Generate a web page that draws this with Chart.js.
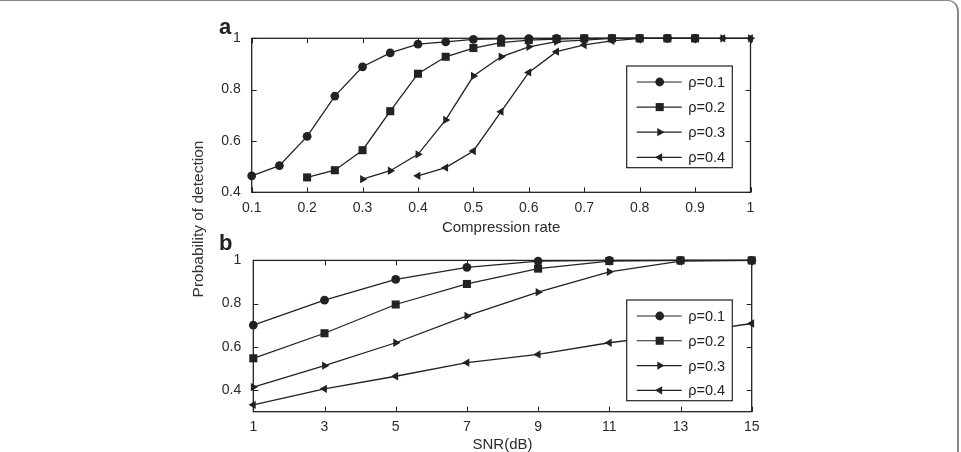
<!DOCTYPE html>
<html><head><meta charset="utf-8">
<script src="https://cdn.jsdelivr.net/npm/chart.js@4.4.0/dist/chart.umd.min.js"></script>
<style>
html,body{margin:0;padding:0;background:#fff;}
#wrap{position:relative;width:961px;height:452px;overflow:hidden;background:#fff;font-family:"Liberation Sans",Arial,sans-serif;}
#frame{position:absolute;left:-20px;top:0;width:979px;height:600px;box-sizing:border-box;border:2px solid #8a8a8a;border-top-width:1px;border-radius:0 11px 0 0;}
canvas{position:absolute;left:0;}
#ca{top:0}
#cb{top:240px}
.lab{position:absolute;font-weight:bold;font-size:22px;color:#222;line-height:22px;}
#ytitle{position:absolute;width:240px;left:78px;top:210px;height:18px;line-height:18px;text-align:center;font-size:15.5px;color:#333;transform:rotate(-90deg);transform-origin:50% 50%;white-space:nowrap;}
</style></head>
<body>
<div id="wrap">
  <div id="frame"></div>
  <canvas id="ca" width="961" height="240"></canvas>
  <canvas id="cb" width="961" height="212"></canvas>
  <div class="lab" style="left:219px;top:16px">a</div>
  <div class="lab" style="left:219px;top:232px">b</div>
  <div id="ytitle">Probability of detection</div>
</div>
<script>
// ---------- data ----------
const seriesNames = ['ρ=0.1', 'ρ=0.2', 'ρ=0.3', 'ρ=0.4'];

// (a) Compression rate
const compressionRate = [0.1,0.15,0.2,0.25,0.3,0.35,0.4,0.45,0.5,0.55,0.6,0.65,0.7,0.75,0.8,0.85,0.9,0.95,1.0];
const rho01A = [0.464,0.504,0.618,0.775,0.889,0.943,0.977,0.986,0.996,0.998,0.999,1,1,1,1,1,1,null,null];
const rho02A = [null,null,0.458,0.486,0.564,0.716,0.862,0.928,0.962,0.983,0.993,0.997,1,1,1,1,1,null,null];
const rho03A = [null,null,null,null,0.451,0.484,0.548,0.682,0.853,0.928,0.967,0.987,0.993,1,1,1,1,1,1];
const rho04A = [null,null,null,null,null,null,0.464,0.496,0.561,0.714,0.867,0.948,0.974,0.990,1,1,1,1,1];
const xTicksA = [0.1,0.2,0.3,0.4,0.5,0.6,0.7,0.8,0.9,1];
const yTicksA = [0.4,0.6,0.8,1];

// (b) SNR
const snr = [1,3,5,7,9,11,13,15];
const rho01B = [0.701,0.816,0.912,0.968,0.997,1,1,1];
const rho02B = [0.547,0.663,0.796,0.891,0.962,0.997,1,1];
const rho03B = [0.414,0.513,0.619,0.743,0.853,0.947,0.997,1];
const rho04B = [0.332,0.406,0.464,0.527,0.565,0.619,0.660,0.708];
const xTicksB = [1,3,5,7,9,11,13,15];
const yTicksB = [0.4,0.6,0.8,1];

// ---------- styling ----------
const FONT = '"Liberation Sans", Arial, sans-serif';
const INK = '#222';
const markerStyles = [
  {pointStyle:'circle', radius:4.4, rotation:0},
  {pointStyle:'rect', radius:5.7, rotation:0},
  {pointStyle:'triangle', radius:4.8, rotation:90},
  {pointStyle:'triangle', radius:4.8, rotation:-90}
];

function fmt(v){ return String(Math.round(v*100)/100); }

function drawMarker(ctx, style, x, y){
  ctx.save();
  ctx.fillStyle = INK;
  ctx.beginPath();
  const r = style.radius;
  if (style.pointStyle === 'circle') {
    ctx.arc(x, y, r, 0, Math.PI*2);
  } else if (style.pointStyle === 'rect') {
    const s = Math.SQRT1_2 * r;
    ctx.rect(x - s, y - s, 2*s, 2*s);
  } else {
    const rot = style.rotation * Math.PI/180;
    for (let k = 0; k < 3; k++) {
      const a = rot - Math.PI/2 + k*2*Math.PI/3;
      const px = x + Math.cos(a)*r, py = y + Math.sin(a)*r;
      if (k === 0) ctx.moveTo(px, py); else ctx.lineTo(px, py);
    }
    ctx.closePath();
  }
  ctx.fill();
  ctx.restore();
}

const boxPlugin = {
  id: 'boxPlugin',
  afterDraw(chart, args, opts) {
    const ctx = chart.ctx;
    const ca = chart.chartArea;
    const xs = chart.scales.x, ys = chart.scales.y;
    ctx.save();
    // inward ticks
    ctx.strokeStyle = INK;
    ctx.lineWidth = 1;
    const TL = 5;
    xs.ticks.forEach(t => {
      const px = Math.round(xs.getPixelForValue(t.value)) + 0.5;
      ctx.beginPath();
      ctx.moveTo(px, ca.bottom); ctx.lineTo(px, ca.bottom - TL);
      ctx.moveTo(px, ca.top); ctx.lineTo(px, ca.top + TL);
      ctx.stroke();
    });
    ys.ticks.forEach(t => {
      const py = Math.round(ys.getPixelForValue(t.value)) + 0.5;
      ctx.beginPath();
      ctx.moveTo(ca.left, py); ctx.lineTo(ca.left + TL, py);
      ctx.moveTo(ca.right, py); ctx.lineTo(ca.right - TL, py);
      ctx.stroke();
    });
    // axes box
    ctx.lineWidth = 1.3;
    ctx.strokeRect(ca.left, ca.top, ca.right - ca.left, ca.bottom - ca.top);

    // legend
    const w = opts.w, h = opts.h;
    const lx = ca.right - opts.right - w;
    const ly = opts.top != null ? ca.top + opts.top : ca.bottom - opts.bottom - h;
    ctx.fillStyle = '#fff';
    ctx.fillRect(lx, ly, w, h);
    ctx.lineWidth = 1.2;
    ctx.strokeStyle = INK;
    ctx.strokeRect(lx, ly, w, h);
    const rowH = (h - 16 - 10.4) / 3;
    chart.data.datasets.forEach((ds, i) => {
      const y = ly + 16 + i*rowH;
      ctx.beginPath();
      ctx.lineWidth = 1.2;
      ctx.strokeStyle = INK;
      ctx.moveTo(lx + 10, y); ctx.lineTo(lx + 55, y);
      ctx.stroke();
      drawMarker(ctx, markerStyles[i], lx + 33, y);
      ctx.fillStyle = '#222';
      ctx.font = '14.5px ' + FONT;
      ctx.textBaseline = 'middle';
      ctx.textAlign = 'left';
      ctx.fillText(ds.label, lx + 61.5, y + 1);
    });
    ctx.restore();
  }
};

function buildDatasets(xs, seriesList) {
  return seriesList.map((vals, i) => ({
    label: seriesNames[i],
    data: vals.map((v, k) => v == null ? null : {x: xs[k], y: v}).filter(p => p),
    borderColor: INK,
    backgroundColor: INK,
    borderWidth: 1.3,
    pointStyle: markerStyles[i].pointStyle,
    pointRadius: markerStyles[i].radius,
    pointRotation: markerStyles[i].rotation,
    pointBackgroundColor: INK,
    pointBorderColor: INK,
    pointBorderWidth: 0,
    tension: 0,
    clip: false,
    order: 4 - i
  }));
}

function makeChart(id, xs, seriesList, cfg) {
  return new Chart(document.getElementById(id), {
    type: 'line',
    data: { datasets: buildDatasets(xs, seriesList) },
    plugins: [boxPlugin],
    options: {
      responsive: false,
      animation: false,
      events: [],
      layout: { padding: cfg.padding },
      plugins: {
        legend: { display: false },
        tooltip: { enabled: false },
        boxPlugin: cfg.legend
      },
      scales: {
        x: {
          type: 'linear',
          min: cfg.xMin, max: cfg.xMax,
          afterBuildTicks: s => { s.ticks = cfg.xTicks.map(v => ({value: v})); },
          afterFit: s => { s.height = cfg.xH; },
          grid: { display: false, drawTicks: false },
          border: { display: false },
          ticks: { callback: v => fmt(v), font: {family: FONT, size: 14, lineHeight: 1.2}, color: '#2a2a2a', padding: 7, maxRotation: 0, autoSkip: false },
          title: { display: true, text: cfg.xTitle, font: {family: FONT, size: 15, lineHeight: 1}, color: '#2a2a2a', padding: 0 }
        },
        y: {
          type: 'linear',
          min: cfg.yMin, max: 1,
          afterBuildTicks: s => { s.ticks = cfg.yTicks.map(v => ({value: v})); },
          afterFit: s => { s.width = cfg.yW; },
          grid: { display: false, drawTicks: false },
          border: { display: false },
          ticks: { callback: v => fmt(v), font: {family: FONT, size: 14}, color: '#2a2a2a', padding: cfg.yPad, autoSkip: false }
        }
      }
    }
  });
}

makeChart('ca', compressionRate, [rho01A, rho02A, rho03A, rho04A], {
  padding: {left: 0, right: 210.5, top: 38.3, bottom: 4.8},
  xMin: 0.1, xMax: 1, xTicks: xTicksA, xH: 42.9, xTitle: 'Compression rate',
  yMin: 0.4, yTicks: yTicksA, yW: 251.7, yPad: 11,
  legend: {right: 18.2, top: 27.7, w: 105.6, h: 101.7}
});

makeChart('cb', snr, [rho01B, rho02B, rho03B, rho04B], {
  padding: {left: 0, right: 209.3, top: 18.3, bottom: 0},
  xMin: 1, xMax: 15, xTicks: xTicksB, xH: 40.3, xTitle: 'SNR(dB)',
  yMin: 0.3, yTicks: yTicksB, yW: 253.3, yPad: 12,
  legend: {right: 19.4, bottom: 11, w: 105.6, h: 100.7}
});
</script>
</body></html>
